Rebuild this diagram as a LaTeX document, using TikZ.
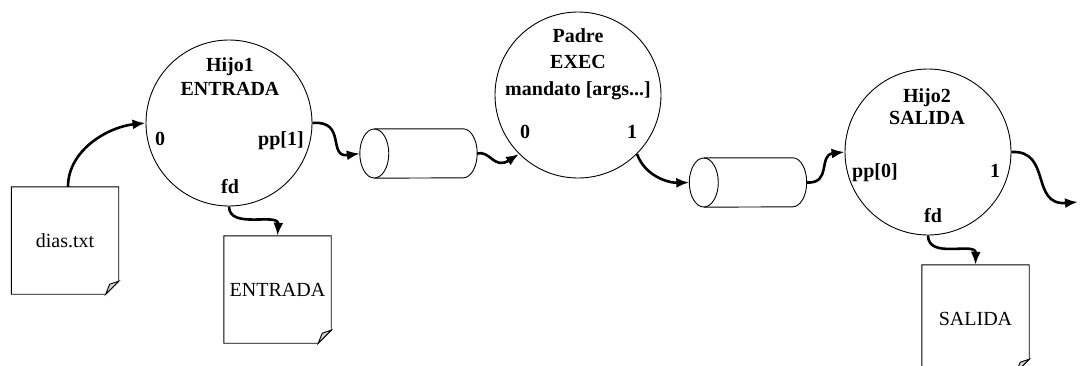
\documentclass[tikz,border=0pt]{standalone}
\usepackage{fontspec}
\setmainfont{Liberation Serif}
\usetikzlibrary{calc,arrows.meta}
\newcommand\docoutline[1]{%
  \draw[outl] (#1.north west) -- (#1.north east) -- ($(#1.south east)+(0,-13)$) -- ($(#1.south east)+(-13,0)$) -- (#1.south west) -- cycle;
  \filldraw[outl,fill=gray!35] ($(#1.south east)+(0,-13)$) -- ($(#1.south east)+(-13,0)$) -- ($(#1.south east)+(-9,-10)$) -- cycle;}
\newcommand\pipeoutline[1]{%
  \draw[outl] ($(#1.west)+(14.5,0)$) ellipse [x radius=14.5, y radius=24.5];
  \draw[outl] ($(#1.north west)+(14.5,0)$) -- ($(#1.north east)+(-14,0)$) arc[start angle=-90, end angle=90, x radius=14, y radius=24.5] -- ($(#1.south west)+(14.5,0)$);}
\begin{document}
\begin{tikzpicture}[x=1pt,y=-1pt,
  proc/.style={circle,draw,line width=0.9pt,minimum size=166pt,inner sep=0pt},
  lbl/.style={font=\fontsize{20}{24}\selectfont\bfseries,anchor=base,inner sep=0pt},
  doc/.style={minimum width=107pt,minimum height=107pt,inner sep=0pt,font=\fontsize{20}{24}\selectfont},
  pipe/.style={minimum width=117pt,minimum height=49pt,inner sep=0pt},
  flow/.style={line width=2.6pt,-{Latex[length=13pt,width=10pt]}},
  outl/.style={line width=0.9pt}]
\useasboundingbox (0,0) rectangle (1087,365);

% processes
\node[proc] (h1) at (229,123) {};
\node[proc] (pa) at (578,95) {};
\node[proc] (h2) at (928,152) {};

% labels Hijo1
\node[lbl] (h1a) at (230,71) {Hijo1};
\node[lbl] (h1b) at (230,95) {ENTRADA};
\node[lbl] (h1c) at (160,145) {0};
\node[lbl] (h1d) at (281,145) {pp[1]};
\node[lbl] (h1e) at (230,193) {fd};

% labels Padre
\node[lbl] (paa) at (578,42) {Padre};
\node[lbl] (pab) at (578,68) {EXEC};
\node[lbl] (pac) at (578,95) {mandato [args...]};
\node[lbl] (pad) at (525,138) {0};
\node[lbl] (pae) at (632,138) {1};

% labels Hijo2
\node[lbl] (h2a) at (927,102) {Hijo2};
\node[lbl] (h2b) at (927,124) {SALIDA};
\node[lbl] (h2c) at (875,177) {pp[0]};
\node[lbl] (h2d) at (995,177) {1};
\node[lbl] (h2e) at (933,222) {fd};

% documents
\node[doc] (d1) at (65,240.5) {dias.txt};
\node[doc] (d2) at (277.5,289.5) {ENTRADA};
\node[doc] (d3) at (975.5,318.5) {SALIDA};
\docoutline{d1}
\docoutline{d2}
\docoutline{d3}

% pipes
\node[pipe] (c1) at (418.5,153.5) {};
\node[pipe] (c2) at (748,182.5) {};
\pipeoutline{c1}
\pipeoutline{c2}

\coordinate (out) at (1078,202);

% connectors
\draw[flow] (d1.north -| 68,0) .. controls (68,150) and (108,127) .. (h1.west);
\draw[flow] (h1.south) .. controls (229,230) and (279,212) .. (d2.north);
\draw[flow] (h1.east) .. controls (347,120) and (327,158) .. (c1.west);
\draw[flow] (c1.east) .. controls (490,150) and (494,170) .. (pa.225);
\draw[flow] (pa.-45) .. controls (645,176) and (668,183) .. (c2.west);
\draw[flow] (c2.east) .. controls (832,184) and (818,155) .. (h2.west);
\draw[flow] (h2.east) .. controls (1052,150) and (1030,206) .. (out);
\draw[flow] (h2.south) .. controls (928,260) and (976,241) .. (d3.north);
\end{tikzpicture}
\end{document}
